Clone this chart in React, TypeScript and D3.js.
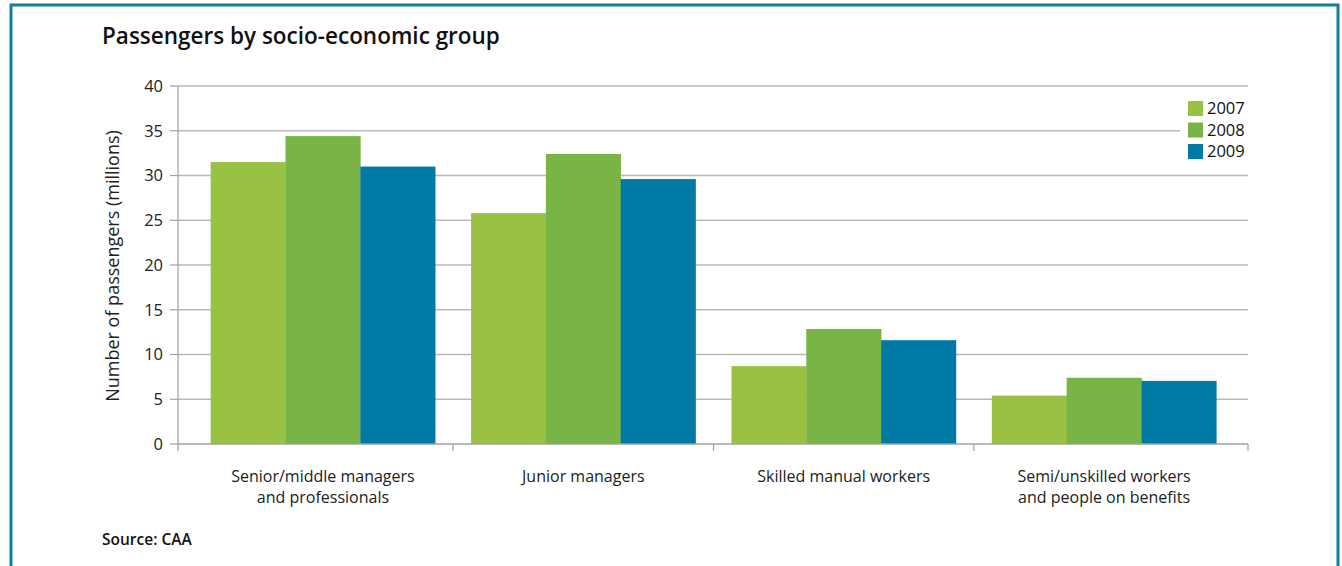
import React from "react";
import * as d3 from "d3";

const categories: string[][] = [
  ["Senior/middle managers", "and professionals"],
  ["Junior managers"],
  ["Skilled manual workers"],
  ["Semi/unskilled workers", "and people on benefits"],
];
const categoryKeys = ["senior", "junior", "skilled", "semi"];
const years = ["2007", "2008", "2009"];
const values2007 = [31.5, 25.8, 8.7, 5.4];
const values2008 = [34.4, 32.4, 12.85, 7.4];
const values2009 = [31.0, 29.6, 11.6, 7.05];
const yTicks = [0, 5, 10, 15, 20, 25, 30, 35, 40];
const colors = ["#99c144", "#78b446", "#0079a4"];

const series = [values2007, values2008, values2009];

const FONT = "'Open Sans', 'Noto Sans', sans-serif";

export default function App() {
  const W = 1342;
  const H = 566;
  const axisLeft = 178;
  const axisRight = 1248;
  const y = d3.scaleLinear().domain([0, 40]).range([444, 86]);
  const x0 = d3
    .scaleBand<string>()
    .domain(categoryKeys)
    .range([192.75, 1234.25])
    .paddingInner(0.138)
    .paddingOuter(0.069);
  const x1 = d3.scaleBand<string>().domain(years).range([0, x0.bandwidth()]);
  const step = x0.step();
  const gap = step * x0.paddingInner();

  return (
    <svg
      width={W}
      height={H}
      style={{ position: "absolute", left: 0, top: 0, background: "#fff" }}
      fontFamily={FONT}
    >
      <rect x={0} y={0} width={W} height={H} fill="#fff" />
      {/* frame */}
      <path d="M11,580 V5 H1338 V580" fill="none" stroke="#127c9e" strokeWidth={3} />
      {/* title */}
      <text x={102} y={44} fontSize={22.5} fontWeight={600} fill="#111">
        Passengers by socio-economic group
      </text>
      {/* gridlines */}
      {yTicks.filter((t) => t > 0).map((t) => (
        <line
          key={t}
          x1={axisLeft}
          x2={axisRight}
          y1={y(t)}
          y2={y(t)}
          stroke="#b9b9b9"
          strokeWidth={1.5}
        />
      ))}
      {/* y ticks & labels */}
      {yTicks.map((t) => (
        <g key={"yt" + t}>
          <line x1={170} x2={axisLeft} y1={y(t)} y2={y(t)} stroke="#a0a0a0" strokeWidth={1.2} />
          <text
            x={163}
            y={y(t)}
            dy="0.35em"
            textAnchor="end"
            fontSize={16.5}
            fill="#222"
          >
            {t}
          </text>
        </g>
      ))}
      {/* y title */}
      <text
        transform={`translate(${119},${266}) rotate(-90)`}
        textAnchor="middle"
        fontSize={18}
        fill="#222"
      >
        Number of passengers (millions)
      </text>
      {/* bars */}
      {categoryKeys.map((c, i) => (
        <g key={c} transform={`translate(${x0(c)},0)`}>
          {years.map((yr, j) => (
            <rect
              key={yr}
              x={x1(yr)}
              y={y(series[j][i])}
              width={x1.bandwidth() + 0.3}
              height={y(0) - y(series[j][i])}
              fill={colors[j]}
            />
          ))}
        </g>
      ))}
      {/* axes lines */}
      <line x1={axisLeft} x2={axisLeft} y1={y(40)} y2={451} stroke="#a0a0a0" strokeWidth={1.2} />
      <line x1={axisLeft} x2={axisRight} y1={y(0)} y2={y(0)} stroke="#a0a0a0" strokeWidth={1.5} />
      {categoryKeys.slice(1).map((c) => (
        <line
          key={"xt" + c}
          x1={(x0(c) as number) - gap / 2}
          x2={(x0(c) as number) - gap / 2}
          y1={y(0)}
          y2={451}
          stroke="#a0a0a0"
          strokeWidth={1.2}
        />
      ))}
      <line x1={axisRight} x2={axisRight} y1={y(0)} y2={451} stroke="#a0a0a0" strokeWidth={1.2} />
      {/* category labels */}
      {categoryKeys.map((c, i) => (
        <text
          key={"cl" + c}
          x={(x0(c) as number) + x0.bandwidth() / 2}
          y={482}
          textAnchor="middle"
          fontSize={16}
          fill="#222"
        >
          {categories[i].map((line, k) => (
            <tspan key={k} x={(x0(c) as number) + x0.bandwidth() / 2} dy={k === 0 ? 0 : 21}>
              {line}
            </tspan>
          ))}
        </text>
      ))}
      {/* legend */}
      <rect x={1180} y={95} width={72} height={70} fill="#fff" />
      {years.map((yr, j) => (
        <g key={"lg" + yr} transform={`translate(1188,${101 + j * 21.5})`}>
          <rect x={0} y={0} width={15} height={15} fill={colors[j]} />
          <text x={19} y={7.5} dy="0.36em" fontSize={16.5} fontWeight={500} fill="#111">
            {yr}
          </text>
        </g>
      ))}
      {/* source */}
      <text x={102} y={545} fontSize={15.5} fontWeight={600} fill="#111">
        Source: CAA
      </text>
    </svg>
  );
}
